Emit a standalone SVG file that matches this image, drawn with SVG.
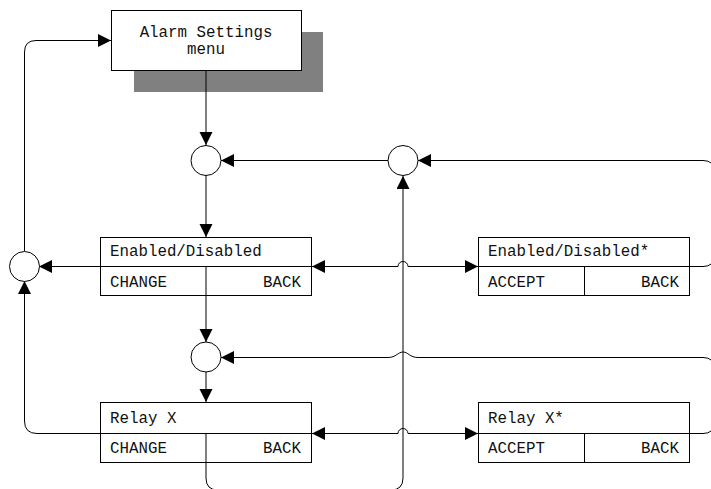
<svg xmlns="http://www.w3.org/2000/svg" width="711" height="489" viewBox="0 0 711 489">
<style>
.box{fill:#fff;stroke:#000;stroke-width:1}
.div{fill:none;stroke:#000;stroke-width:1}
.c{fill:none;stroke:#000;stroke-width:1}
.circ{fill:#fff;stroke:#000;stroke-width:1}
text{font-family:"Liberation Mono","Courier New",monospace;font-size:15.8px;fill:#111}
.end{text-anchor:end}
.mid{text-anchor:middle}
</style>
<defs>
<marker id="ah" markerUnits="userSpaceOnUse" markerWidth="14" markerHeight="14" refX="13" refY="6.5" orient="auto-start-reverse" viewBox="0 0 14 14">
<path d="M0,0 L13,6.5 L0,13 z" fill="#000"/>
</marker>
</defs>
<g id="menu">
<rect x="134" y="32" width="189" height="60" fill="#808080"/>
<rect class="box" x="111.5" y="10.5" width="190" height="60"/>
<text class="mid" x="206" y="37">Alarm Settings</text>
<text class="mid" x="206" y="54">menu</text>
</g>
<g id="connectors">
<path class="c" d="M206,71 V145" marker-end="url(#ah)"/>
<path class="c" d="M206,175 V237" marker-end="url(#ah)"/>
<path class="c" d="M388,160.5 H221" marker-end="url(#ah)"/>
<path class="c" d="M206,296 V342" marker-end="url(#ah)"/>
<path class="c" d="M206,372 V402" marker-end="url(#ah)"/>
<path class="c" d="M100,266.5 H39" marker-end="url(#ah)"/>
<path class="c" d="M100,433.5 H37 Q24.5,433.5 24.5,421 V281" marker-end="url(#ah)"/>
<path class="c" d="M24.5,251 V52 Q24.5,40.5 36,40.5 H111" marker-end="url(#ah)"/>
<path class="c" d="M312,266.5 H398 A5,5 0 0 1 408,266.5 H478" marker-start="url(#ah)" marker-end="url(#ah)"/>
<path class="c" d="M312,433.5 H398 A5,5 0 0 1 408,433.5 H478" marker-start="url(#ah)" marker-end="url(#ah)"/>
<path class="c" d="M690,266.5 H703 Q714,266.5 714,256 V171 Q714,160.5 703,160.5 H418" marker-end="url(#ah)"/>
<path class="c" d="M690,433.5 H703 Q714,433.5 714,423 V368 Q714,357.5 703,357.5 H418 C410,357.5 408,352 403,352 C398,352 396,357.5 388,357.5 H221" marker-end="url(#ah)"/>
<path class="c" d="M206,463 V478 Q206,490 218,490 H391 Q403,490 403,478 V176" marker-end="url(#ah)"/>
</g>
<g id="circle1"><circle class="circ" cx="206" cy="160.5" r="15"/></g>
<g id="circle2"><circle class="circ" cx="403" cy="160.5" r="15"/></g>
<g id="circle3"><circle class="circ" cx="206" cy="357" r="15"/></g>
<g id="circleLeft"><circle class="circ" cx="24.5" cy="266.5" r="15"/></g>
<g id="enabled">
<rect class="box" x="100.5" y="237.5" width="211" height="58"/>
<path class="div" d="M100.5,266.5 H311.5 M206,266.5 V295.5"/>
<text x="110" y="256">Enabled/Disabled</text>
<text x="110" y="287">CHANGE</text>
<text class="end" x="301" y="287">BACK</text>
</g>
<g id="enabledStar">
<rect class="box" x="478.5" y="237.5" width="211" height="58"/>
<path class="div" d="M478.5,266.5 H689.5 M584.5,266.5 V295.5"/>
<text x="488" y="256">Enabled/Disabled*</text>
<text x="488" y="287">ACCEPT</text>
<text class="end" x="679" y="287">BACK</text>
</g>
<g id="relay">
<rect class="box" x="100.5" y="402.5" width="211" height="60"/>
<path class="div" d="M100.5,433.5 H311.5 M206,433.5 V462.5"/>
<text x="110" y="423">Relay X</text>
<text x="110" y="453">CHANGE</text>
<text class="end" x="301" y="453">BACK</text>
</g>
<g id="relayStar">
<rect class="box" x="478.5" y="402.5" width="211" height="60"/>
<path class="div" d="M478.5,433.5 H689.5 M584.5,433.5 V462.5"/>
<text x="488" y="423">Relay X*</text>
<text x="488" y="453">ACCEPT</text>
<text class="end" x="679" y="453">BACK</text>
</g>
</svg>
